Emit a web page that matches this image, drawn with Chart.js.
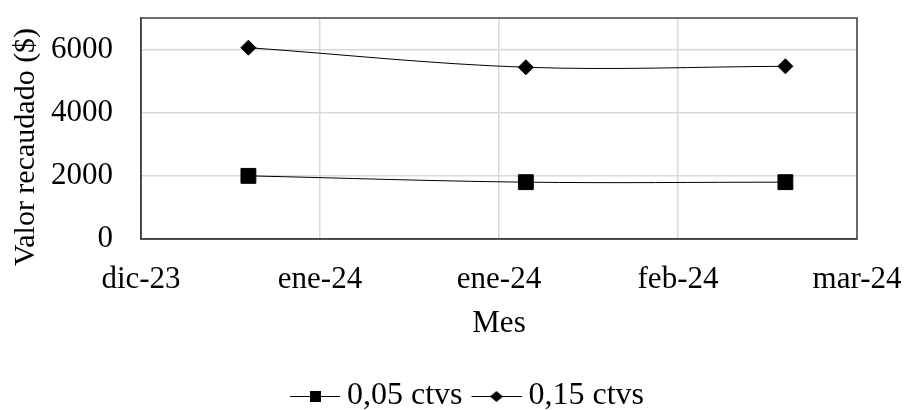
<!DOCTYPE html>
<html lang="es">
<head>
<meta charset="utf-8">
<title>Valor recaudado por mes</title>
<script src="https://cdn.jsdelivr.net/npm/chart.js@4.4.1/dist/chart.umd.min.js"></script>
<style>
    html, body { margin: 0; padding: 0; background: #fff; }
    #wrap { width: 906px; height: 410px; }
</style>
</head>
<body>
<div id="wrap"><canvas id="grafico"></canvas></div>
<script>
// Datos
const inicioEje = '2023-12-20';
const fechas = ['2024-01-01', '2024-02-01', '2024-03-01'];
const valores005 = [2000, 1800, 1800];
const valores015 = [6060, 5440, 5470];
const etiquetasX = ['dic-23', 'ene-24', 'ene-24', 'feb-24', 'mar-24'];
const marcasY = [0, 2000, 4000, 6000];
const nombresSeries = ['0,05 ctvs', '0,15 ctvs'];
const tituloY = 'Valor recaudado ($)';
const tituloX = 'Mes';

const FUENTE = "'Liberation Serif', 'Times New Roman', serif";
const DIA = 86400000;

function dias(f) {
    return (Date.parse(f) - Date.parse(inicioEje)) / DIA;
}

function puntos(valores) {
    return fechas.map((f, i) => ({ x: dias(f), y: valores[i] }));
}

// icono de leyenda: línea con marcador (desplazado para acercar el texto)
function icono(estilo) {
    const c = document.createElement('canvas');
    c.width = 68;
    c.height = 20;
    const ctx = c.getContext('2d');
    ctx.strokeStyle = '#000';
    ctx.lineWidth = 1;
    ctx.beginPath();
    ctx.moveTo(18, 10.5);
    ctx.lineTo(68, 10.5);
    ctx.stroke();
    ctx.fillStyle = '#000';
    if (estilo === 'rect') {
        ctx.fillRect(38, 5, 11, 11);
    } else {
        ctx.beginPath();
        ctx.moveTo(43, 5);
        ctx.lineTo(49.5, 10.5);
        ctx.lineTo(43, 16);
        ctx.lineTo(36.5, 10.5);
        ctx.closePath();
        ctx.fill();
    }
    return c;
}

// marco del área de trazado, título vertical y leyenda algo a la derecha
const marco = {
    id: 'marco',
    afterLayout(chart) {
        const l = chart.legend;
        if (l) { l.left += 34; l.right += 34; }
    },
    afterDatasetsDraw(chart) {
        const a = chart.chartArea;
        const ctx = chart.ctx;
        ctx.save();
        ctx.strokeStyle = '#404040';
        ctx.lineWidth = 1.5;
        ctx.strokeRect(a.left, a.top, a.right - a.left, a.bottom - a.top);
        ctx.restore();
    },
    afterDraw(chart) {
        const ctx = chart.ctx;
        ctx.save();
        ctx.translate(26, 147);
        ctx.rotate(-Math.PI / 2);
        ctx.font = '30px ' + FUENTE;
        ctx.fillStyle = '#000';
        ctx.textAlign = 'center';
        ctx.textBaseline = 'middle';
        ctx.fillText(tituloY, 0, 0);
        ctx.restore();
    }
};

new Chart(document.getElementById('grafico'), {
    type: 'line',
    data: {
        datasets: [{
            label: nombresSeries[0],
            data: puntos(valores005),
            borderColor: '#000',
            backgroundColor: '#000',
            borderWidth: 1,
            pointStyle: 'rect',
            pointRadius: 10.5,
            tension: 0.35,
        }, {
            label: nombresSeries[1],
            data: puntos(valores015),
            borderColor: '#000',
            backgroundColor: '#000',
            borderWidth: 1,
            pointStyle: 'rectRot',
            pointRadius: 7.5,
            tension: 0.35,
        }],
    },
    options: {
        responsive: true,
        maintainAspectRatio: false,
        animation: false,
        layout: {
            autoPadding: false,
            padding: { top: 18, right: 49, left: 0, bottom: -12 },
        },
        plugins: {
            tooltip: { enabled: false },
            legend: {
                position: 'bottom',
                labels: {
                    color: '#000',
                    font: { family: FUENTE, size: 32, lineHeight: 1 },
                    usePointStyle: true,
                    pointStyleWidth: 50,
                    padding: 0,
                    generateLabels(chart) {
                        return chart.data.datasets.map((ds, i) => ({
                            text: ds.label,
                            pointStyle: icono(ds.pointStyle),
                            fillStyle: '#000',
                            strokeStyle: '#000',
                            lineWidth: 0,
                            hidden: false,
                            datasetIndex: i,
                            fontColor: '#000',
                        }));
                    },
                },
            },
        },
        scales: {
            x: {
                type: 'linear',
                min: 0,
                max: 80,
                afterFit(s) { s.height = 141; },
                ticks: {
                    stepSize: 20,
                    color: '#000',
                    padding: 0,
                    maxRotation: 0,
                    font: { family: FUENTE, size: 31 },
                    callback: (v, i) => etiquetasX[i],
                },
                grid: { color: '#d9d9d9', lineWidth: 1.5, drawTicks: true, tickLength: 22, tickColor: 'rgba(0,0,0,0)' },
                border: { color: '#404040', width: 1.5 },
                title: {
                    display: true,
                    text: tituloX,
                    color: '#000',
                    font: { family: FUENTE, size: 31 },
                    padding: { top: 38, bottom: 38 },
                },
            },
            y: {
                min: 0,
                max: 7000,
                afterFit(s) { s.width = 141; },
                afterBuildTicks(s) { s.ticks = marcasY.map(v => ({ value: v })); },
                ticks: {
                    color: '#000',
                    padding: 0,
                    font: { family: FUENTE, size: 31, lineHeight: 1 },
                    callback: v => String(v),
                },
                grid: { color: '#d9d9d9', lineWidth: 1.5, drawTicks: true, tickLength: 28, tickColor: 'rgba(0,0,0,0)' },
                border: { color: '#404040', width: 1.5 },
            },
        },
    },
    plugins: [marco],
});
</script>
</body>
</html>
